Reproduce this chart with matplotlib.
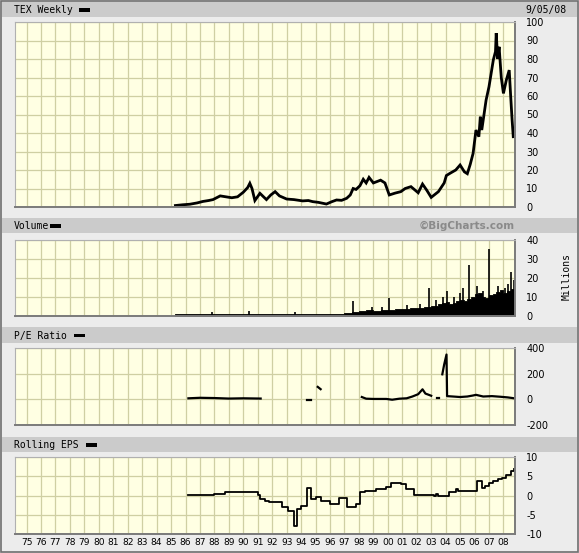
import matplotlib
matplotlib.use("Agg")
import matplotlib.pyplot as plt
from matplotlib.patches import Rectangle

# ---------------- data ----------------
price_years = [1985.3, 1985.8, 1986.3, 1986.8, 1987.2, 1987.6, 1987.9, 1988.4, 1988.8, 1989.2,
               1989.6, 1990.0, 1990.3, 1990.45, 1990.6, 1990.8, 1991.15, 1991.4, 1991.6, 1991.9,
               1992.2, 1992.5, 1993.0, 1993.5, 1994.1, 1994.5, 1994.8, 1995.2, 1995.75, 1996.1,
               1996.45, 1996.8, 1997.15, 1997.4, 1997.6, 1997.8, 1998.07, 1998.3, 1998.5, 1998.7,
               1999.0, 1999.5, 1999.8, 2000.1, 2000.5, 2000.9, 2001.2, 2001.6, 2002.1, 2002.4,
               2002.7, 2003.0, 2003.5, 2003.9, 2004.05, 2004.3, 2004.7, 2005.0, 2005.3, 2005.5,
               2005.7, 2005.9, 2006.1, 2006.3, 2006.4, 2006.5, 2006.8, 2007.0, 2007.3, 2007.45,
               2007.5, 2007.6, 2007.7, 2007.85, 2008.0, 2008.2, 2008.4, 2008.5, 2008.6, 2008.68]
price_values = [0.8, 1.2, 1.5, 2.2, 3.0, 3.5, 4.0, 6.0, 5.5, 5.0,
                5.5, 8.0, 10.5, 12.8, 10.0, 3.5, 7.4, 5.5, 4.0, 6.5,
                8.3, 6.0, 4.3, 4.0, 3.3, 3.5, 2.9, 2.5, 1.6, 2.8,
                3.8, 3.6, 4.7, 6.5, 10.0, 9.5, 11.5, 15.0, 13.0, 16.0,
                13.0, 14.5, 13.0, 6.5, 7.5, 8.3, 10.0, 11.0, 7.7, 12.4,
                9.0, 5.2, 8.3, 13.0, 17.0, 18.2, 20.0, 22.7, 19.0, 18.0,
                23.0, 29.0, 41.6, 38.0, 48.8, 41.6, 57.8, 65.0, 79.5, 84.0,
                94.0, 80.0, 86.6, 70.0, 61.4, 68.6, 74.0, 60.0, 47.0, 38.0]

vol_years = [1985.3, 1986, 1987, 1988, 1989, 1990, 1991, 1992, 1993, 1994, 1995, 1996, 1997,
             1997.5, 1998, 1998.5, 1999, 1999.5, 2000, 2000.5, 2001, 2001.5, 2002, 2002.5,
             2003, 2003.25, 2003.5, 2003.75, 2004, 2004.25, 2004.5, 2004.75, 2005, 2005.25,
             2005.5, 2005.75, 2006, 2006.25, 2006.5, 2006.75, 2007, 2007.25, 2007.5, 2007.75,
             2008, 2008.25, 2008.5, 2008.7]
vol_values = [1.0, 1.0, 1.0, 1.0, 1.0, 1.1, 1.0, 1.1, 1.1, 1.0, 1.0, 1.2, 1.5,
              2.0, 2.5, 3.0, 2.5, 3.0, 3.0, 3.5, 3.5, 4.0, 4.0, 4.5,
              5.0, 5.5, 6.5, 7.0, 7.5, 6.5, 7.0, 8.0, 8.5, 8.0,
              9.0, 10.0, 11.5, 12.0, 10.0, 9.5, 11.0, 11.5, 12.5, 13.5,
              12.0, 13.0, 14.0, 14.0]
spike_years = [1987.8, 1990.4, 1993.6, 1997.6, 1998.9, 1999.6, 2000.1, 2001.3, 2002.2, 2002.85,
               2003.3, 2003.8, 2004.1, 2004.6, 2005.0, 2005.2, 2005.6, 2006.2, 2006.6, 2007.0,
               2007.6, 2008.1, 2008.3, 2008.55, 2008.7]
spike_values = [2.0, 2.5, 2.0, 8.0, 5.0, 4.5, 9.3, 6.0, 6.5, 15.0,
                8.5, 10.0, 13.0, 10.0, 12.0, 15.0, 27.0, 16.0, 13.0, 35.0,
                16.0, 15.0, 17.0, 23.0, 19.0]

pe_segments = [
    ([1986.2, 1987.0, 1988.0, 1989.0, 1990.0, 1991.2], [8, 12, 10, 6, 8, 6]),
    ([1994.4, 1994.7], [-5, -5]),
    ([1995.15, 1995.35], [97, 79]),
    ([1998.2, 1998.5, 1999.0, 1999.9, 2000.3, 2000.8, 2001.3, 2001.7, 2002.1, 2002.4, 2002.6, 2003.0],
     [18, 5, 3, 3, -3, 5, 8, 22, 40, 78, 45, 28]),
    ([2003.4, 2003.55], [10, 10]),
    ([2003.77, 2003.9, 2004.06, 2004.1, 2004.5, 2005.0, 2005.5, 2005.9, 2006.1, 2006.6, 2007.2, 2007.8, 2008.3, 2008.75],
     [195, 272, 349, 25, 22, 18, 22, 30, 35, 22, 25, 20, 15, 8]),
]

eps_years = [1986.2, 1988.0, 1988.7, 1990.0, 1991.0, 1991.15, 1991.5, 1991.8, 1992.2, 1992.7,
             1993.1, 1993.5, 1993.7, 1994.0, 1994.4, 1994.7, 1995.0, 1995.4, 1996.0, 1996.6,
             1997.2, 1997.8, 1998.1, 1998.45, 1999.2, 1999.85, 2000.2, 2000.9, 2001.25, 2001.8,
             2003.2, 2003.35, 2003.5, 2004.2, 2004.7, 2004.85, 2006.2, 2006.5, 2006.75, 2007.0,
             2007.3, 2007.6, 2007.9, 2008.2, 2008.55, 2008.75]
eps_values = [0.2, 0.4, 0.8, 1.0, 0.1, -1.0, -1.3, -1.6, -1.7, -3.0,
              -4.1, -7.9, -3.5, -2.8, 2.0, -1.0, -0.3, -1.5, -2.1, -0.6,
              -2.9, -2.3, 0.9, 1.2, 1.7, 2.2, 3.3, 3.0, 1.7, 0.2,
              -0.2, 0.5, 0.0, 0.9, 1.7, 1.1, 3.7, 2.0, 2.5, 3.3,
              3.8, 4.3, 4.6, 5.3, 6.3, 7.0]

year_ticks = list(range(1975, 2009))
year_labels = ["%02d" % (y % 100) for y in year_ticks]

# ---------------- layout ----------------
W, H = 579, 553
fig = plt.figure(figsize=(W / 100, H / 100), dpi=100)
fig.patch.set_facecolor("#ECECEC")

bg = fig.add_axes([0, 0, 1, 1], zorder=-5)
bg.set_xlim(0, W)
bg.set_ylim(H, 0)
bg.axis("off")

BG_FACE = "#FFFFE3"
GRID = "#CFCFA3"
HEAD = "#CBCBCB"
MONO = "DejaVu Sans Mono"


def add_panel(top, bottom, ylim, yticks, ylabels):
    x0, x1 = 15, 515
    ax = fig.add_axes([x0 / W, 1 - bottom / H, (x1 - x0) / W, (bottom - top) / H])
    ax.set_facecolor(BG_FACE)
    ax.set_xlim(1974.2, 2008.8)
    ax.set_ylim(*ylim)
    ax.set_xticks(year_ticks)
    ax.set_yticks(yticks)
    ax.set_yticklabels(ylabels)
    ax.yaxis.tick_right()
    ax.tick_params(axis="y", length=0, pad=8, labelsize=7, colors="black")
    ax.tick_params(axis="x", length=0, labelbottom=False)
    ax.grid(True, color=GRID, linewidth=0.9)
    ax.set_axisbelow(True)
    for s in ("left", "top"):
        ax.spines[s].set_color("#B0B0B0")
        ax.spines[s].set_linewidth(0.8)
    for s in ("right", "bottom"):
        ax.spines[s].set_color("#7A7A7A")
        ax.spines[s].set_linewidth(1.4)
    return ax


def header(y0, y1, title, swatch_x):
    bg.add_patch(Rectangle((2, y0), 575, y1 - y0, facecolor=HEAD, edgecolor="none"))
    bg.text(14, (y0 + y1) / 2 + 0.5, title, family=MONO, fontsize=7, va="center", ha="left")
    bg.add_patch(Rectangle((swatch_x, (y0 + y1) / 2 - 1.5), 11, 3.5, facecolor="black", edgecolor="none"))


header(2, 17, "TEX Weekly", 79)
bg.text(566, 9.5, "9/05/08", family=MONO, fontsize=7, va="center", ha="right")
header(218, 233, "Volume", 50)
bg.text(515, 225.5, "\u00a9BigCharts.com", fontsize=7.5, fontweight="bold", color="#8A8A8A",
        va="center", ha="right")
header(327, 343, "P/E Ratio", 74)
header(437, 452, "Rolling EPS", 86)
bg.text(567, 277, "Millions", family=MONO, fontsize=7, rotation=90, va="center", ha="center")
bg.add_patch(Rectangle((0.5, 0.5), 577, 551, facecolor="none", edgecolor="#6E6E6E", linewidth=1.2))

# price
ax1 = add_panel(22, 207, (0, 100), range(0, 101, 10), [str(v) for v in range(0, 101, 10)])
ax1.plot(price_years, price_values, color="black", linewidth=2.0, solid_joinstyle="miter")

# volume
ax2 = add_panel(240, 316, (0, 40), range(0, 41, 10), [str(v) for v in range(0, 41, 10)])
ax2.fill_between(vol_years, vol_values, 0, step="post", color="black", linewidth=0.6)
ax2.vlines(spike_years, 0, spike_values, color="black", linewidth=1.2)

# P/E
ax3 = add_panel(348, 425, (-200, 400), [-200, 0, 200, 400], ["-200", "0", "200", "400"])
for xs, ys in pe_segments:
    ax3.plot(xs, ys, color="black", linewidth=1.6)

# EPS
ax4 = add_panel(457, 534, (-10, 10), [-10, -5, 0, 5, 10], ["-10", "-5", "0", "5", "10"])
ax4.step(eps_years, eps_values, where="post", color="black", linewidth=1.3)
ax4.tick_params(axis="x", labelbottom=True, labelsize=6.6, pad=3)
ax4.set_xticklabels(year_labels)

fig.savefig("out.png", dpi=100, facecolor=fig.get_facecolor())
